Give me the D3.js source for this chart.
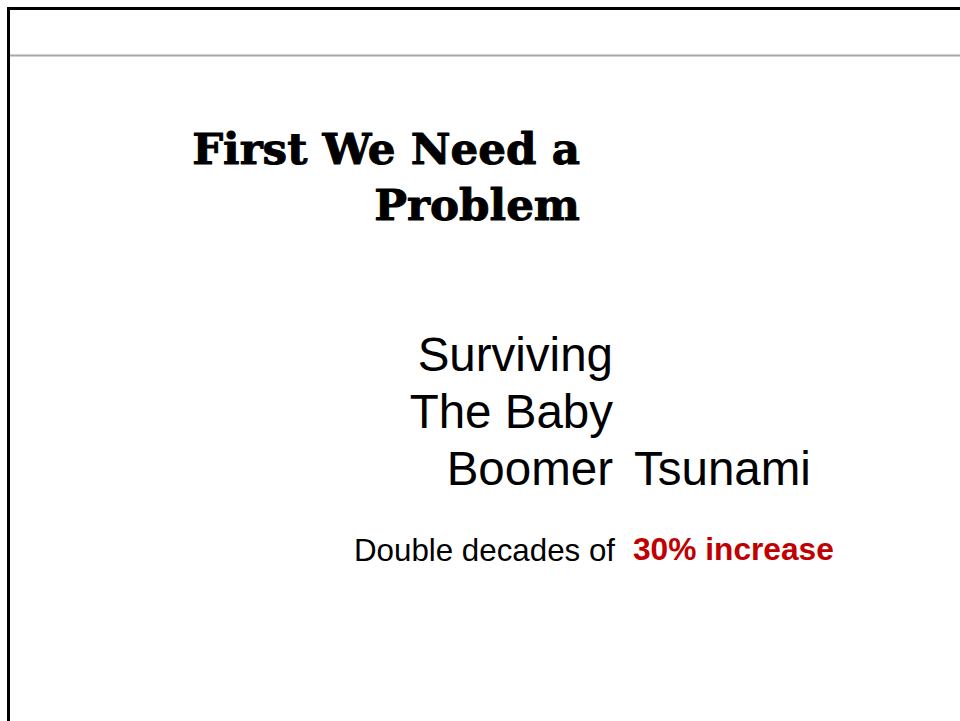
<!DOCTYPE html>
<html>
<head>
<meta charset="utf-8">
<script src="https://cdn.jsdelivr.net/npm/d3@7"></script>
<style>
  html, body { margin: 0; padding: 0; background: #fff; }
  svg { display: block; }
</style>
</head>
<body>
<svg id="chart" width="960" height="721"></svg>
<script>
// ---- content ----
const titleLines = ["First We Need a", "Problem"];
const headlineLines = ["Surviving", "The Baby", "Boomer"];
const headlineTail = "Tsunami";
const noteText = "Double decades of";
const noteHighlight = "30% increase";

const W = 960, H = 721;
const svg = d3.select("#chart");

// slide frame
svg.append("path")
  .attr("d", `M8.5,${H} L8.5,8.5 L${W},8.5`)
  .attr("fill", "none").attr("stroke", "#000").attr("stroke-width", 3);
svg.append("line")
  .attr("x1", 10).attr("x2", W).attr("y1", 55.5).attr("y2", 55.5)
  .attr("stroke", "#a8a8a8").attr("stroke-width", 2);

// title (right aligned, bold serif)
const titleY = d3.scalePoint().domain(titleLines).range([164, 220]);
const title = svg.append("g").selectAll("text").data(titleLines).join("text")
  .attr("x", 580).attr("y", d => titleY(d))
  .attr("text-anchor", "end")
  .attr("font-family", "'DejaVu Serif', serif")
  .attr("font-weight", "bold")
  .attr("font-size", 40)
  .attr("fill", "#000")
  .attr("stroke", "#000")
  .attr("stroke-width", 1)
  .attr("stroke-linejoin", "round")
  .text(d => d);
// fit first line width to reference span (191..580)
const w0 = title.nodes()[0].getComputedTextLength();
const fs = 40 * 388 / w0;
title.attr("font-size", fs);

// headline (right aligned at 612)
const headFont = 47.5;
const headY = d3.scalePoint().domain(headlineLines).range([371, 485]);
svg.append("g").selectAll("text").data(headlineLines).join("text")
  .attr("x", 613).attr("y", d => headY(d))
  .attr("text-anchor", "end")
  .attr("font-family", "'Liberation Sans', Arial, sans-serif")
  .attr("font-size", headFont)
  .attr("fill", "#000")
  .text(d => d);
svg.append("text")
  .attr("x", 634).attr("y", headY(headlineLines[2]))
  .attr("font-family", "'Liberation Sans', Arial, sans-serif")
  .attr("font-size", headFont)
  .attr("fill", "#000")
  .text(headlineTail);

// note line
svg.append("text")
  .attr("x", 354).attr("y", 561)
  .attr("font-family", "'Liberation Sans', Arial, sans-serif")
  .attr("font-size", 31.3)
  .attr("fill", "#000")
  .text(noteText);
svg.append("text")
  .attr("x", 633).attr("y", 560)
  .attr("font-family", "'Liberation Sans', Arial, sans-serif")
  .attr("font-weight", "bold")
  .attr("font-size", 31.7)
  .attr("fill", "#c00000")
  .text(noteHighlight);
</script>
</body>
</html>
